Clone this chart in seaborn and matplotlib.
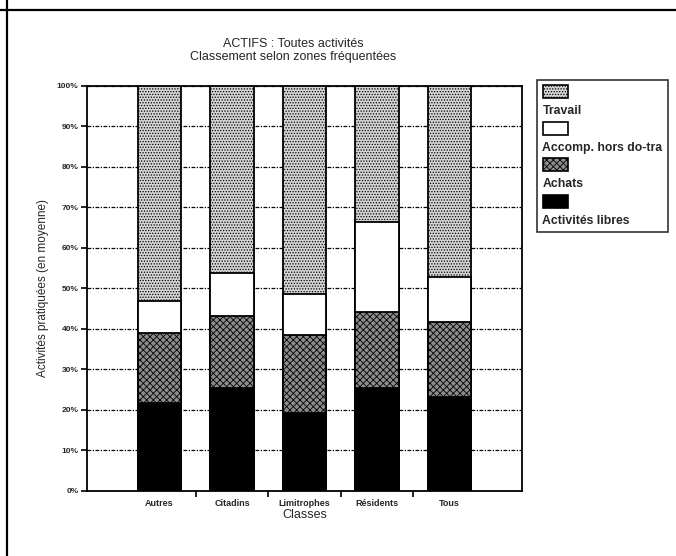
import numpy as np
import pandas as pd
import matplotlib
matplotlib.use("Agg")
import matplotlib.pyplot as plt
import seaborn as sns
from matplotlib.patches import Patch
from matplotlib.lines import Line2D

# ---- data (percent, bottom to top) ----
classes = ["Autres", "Citadins", "Limitrophes", "Résidents", "Tous"]
libres = [21.6, 25.3, 19.1, 25.3, 23.2]
achats = [17.4, 17.8, 19.3, 18.9, 18.5]
accomp = [7.9, 10.7, 10.2, 22.1, 11.0]
travail = [53.1, 46.2, 51.4, 33.7, 47.3]
series_names = ["Activités libres", "Achats", "Accomp. hors do-tra", "Travail"]
yticks = [0, 10, 20, 30, 40, 50, 60, 70, 80, 90, 100]
ytick_labels = [f"{v}%" for v in yticks]

sns.set_theme(style="white")
plt.rcParams["font.family"] = ["Liberation Sans", "DejaVu Sans"]
plt.rcParams["hatch.linewidth"] = 0.6

fig = plt.figure(figsize=(6.76, 5.56), dpi=100)
ax = fig.add_axes([87 / 676, 1 - 490.7 / 556, (522 - 87) / 676, (490.7 - 85.7) / 556])

df = pd.DataFrame({"Classe": classes, "Activités libres": libres, "Achats": achats,
                   "Accomp. hors do-tra": accomp, "Travail": travail})
cum = df[series_names].cumsum(axis=1)
cum["Classe"] = classes

styles = {
    "Travail": dict(color="#d4d4d4", hatch="......"),
    "Accomp. hors do-tra": dict(color="white", hatch=None),
    "Achats": dict(color="#8c8c8c", hatch="xxxxx"),
    "Activités libres": dict(color="black", hatch=None),
}

for name in reversed(series_names):
    st = styles[name]
    kw = dict(hatch=st["hatch"]) if st["hatch"] else {}
    sns.barplot(data=cum, x="Classe", y=name, color=st["color"],
                saturation=1, width=0.6, edgecolor="black", linewidth=1.3, ax=ax, zorder=3, **kw)

ax.set_xlim(-1, 5)
ax.set_ylim(0, 100)
ax.set_yticks(yticks)
ax.set_yticklabels(ytick_labels, fontsize=6, fontweight="bold")
ax.set_xticks(range(len(classes)))
ax.set_xticklabels(classes, fontsize=6.5, fontweight="bold")
ax.set_xticks([0.5, 1.5, 2.5, 3.5], minor=True)
ax.tick_params(axis="x", which="major", length=0, pad=6)
ax.tick_params(axis="x", which="minor", length=4, width=1.2, direction="out", color="black", bottom=True)
ax.tick_params(axis="y", length=4, width=1.2, direction="out", color="black", left=True, pad=2)
ax.yaxis.grid(True, color="black", linestyle=(0, (3, 1.2, 1, 1.2)), linewidth=0.9, zorder=0)
ax.set_axisbelow(True)
for sp in ax.spines.values():
    sp.set_color("black")
    sp.set_linewidth(1.3)

ax.set_xlabel("Classes", fontsize=9, labelpad=1)
ax.set_ylabel("Activités pratiquées (en moyenne)", fontsize=8.5, labelpad=6)

fig.text(293 / 676, 1 - 44 / 556, "ACTIFS : Toutes activités", ha="center", va="center", fontsize=9)
fig.text(293 / 676, 1 - 57 / 556, "Classement selon zones fréquentées", ha="center", va="center", fontsize=9)

# legend: patch row then label row
handles, labels = [], []
for name in reversed(series_names):
    st = styles[name]
    handles.append(Patch(facecolor=st["color"], edgecolor="black", linewidth=1.2,
                         hatch=st["hatch"]))
    labels.append(" ")
    handles.append(Patch(visible=False))
    labels.append(name)
leg = fig.legend(handles, labels, loc="upper left", bbox_to_anchor=(537 / 676, 1 - 80 / 556),
                 bbox_transform=fig.transFigure, prop=dict(size=8.8, weight="bold"),
                 handlelength=2.1, handleheight=1.25, handletextpad=-2.1, labelspacing=0.38,
                 borderpad=0.45, borderaxespad=0, fancybox=False, frameon=True)
leg.get_frame().set_edgecolor("black")
leg.get_frame().set_linewidth(1.2)

# page frame lines (top and left)
fig.add_artist(Line2D([0, 1], [1 - 10 / 556, 1 - 10 / 556], transform=fig.transFigure,
                      color="black", linewidth=1.6))
fig.add_artist(Line2D([7 / 676, 7 / 676], [0, 1], transform=fig.transFigure,
                      color="black", linewidth=1.6))

fig.savefig("out.png", dpi=100)
